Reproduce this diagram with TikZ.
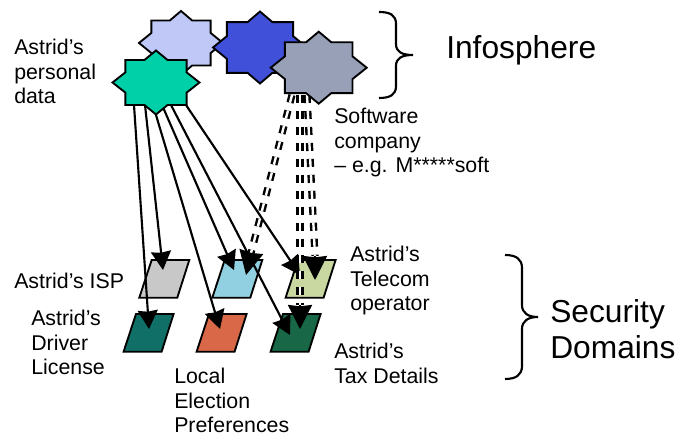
\documentclass[tikz,border=0pt]{standalone}
\usepackage{fontspec}
\setmainfont{Liberation Sans}
\usetikzlibrary{arrows.meta}
\newcommand{\starpath}[5]{% name, cx, cy, rx, ry, fill via style
 \path[starbox,fill=#1] (#2-#4,#3) -- (#2-.704*#4,#3-.316*#5) -- (#2-.704*#4,#3-.705*#5) -- (#2-.264*#4,#3-.705*#5) -- (#2,#3-#5) -- (#2+.264*#4,#3-.705*#5) -- (#2+.704*#4,#3-.705*#5) -- (#2+.704*#4,#3-.316*#5) -- (#2+#4,#3) -- (#2+.704*#4,#3+.316*#5) -- (#2+.704*#4,#3+.705*#5) -- (#2+.264*#4,#3+.705*#5) -- (#2,#3+#5) -- (#2-.264*#4,#3+.705*#5) -- (#2-.704*#4,#3+.705*#5) -- (#2-.704*#4,#3+.316*#5) -- cycle;}
\newcommand{\dompath}[3]{% colour, left-top x, top y
 \path[dombox,fill=#1] (#2,#3) -- (#2+37.6,#3) -- (#2+25.6,#3+37.7) -- (#2-12.4,#3+37.7) -- cycle;}
\definecolor{clav}{HTML}{C0C8F8}
\definecolor{cblue}{HTML}{4050D8}
\definecolor{cgray}{HTML}{98A0B8}
\definecolor{cgreen}{HTML}{00D0A8}
\definecolor{cisp}{HTML}{C8C8C8}
\definecolor{clb}{HTML}{90D0E0}
\definecolor{ctel}{HTML}{C8D8A0}
\definecolor{cdrv}{HTML}{107068}
\definecolor{cora}{HTML}{D86848}
\definecolor{ctax}{HTML}{186848}
\tikzset{
 starbox/.style={draw=black,line width=1.4pt,line join=miter},
 dombox/.style={draw=black,line width=1.4pt,line join=miter},
 solidarrow/.style={draw=black,line width=1.6pt,-{Stealth[length=14pt,width=15pt,inset=1pt]}},
 dashline/.style={draw=black,line width=1.8pt,double=white,double distance=1.8pt,dash pattern=on 6pt off 6pt},
 headonly/.style={draw=black,line width=1.6pt,-{Stealth[length=18pt,width=18pt,inset=1pt]}},
 lab/.style={font=\fontsize{16}{18.4}\selectfont,align=left,anchor=north west,inner sep=0pt,text=black},
 biglab/.style={font=\fontsize{23.8}{27}\selectfont,align=left,anchor=west,inner sep=0pt,text=black},
 bracel/.style={draw=black,line width=1.6pt}
}
\begin{document}
\begin{tikzpicture}[x=.75pt,y=-.75pt]
\useasboundingbox (0,0) rectangle (676,434);
% parallelograms
\dompath{cisp}{151.7}{260}
\dompath{clb}{224.7}{260}
\dompath{ctel}{298}{260}
\dompath{cdrv}{136}{314}
\dompath{cora}{209}{314}
\dompath{ctax}{283}{314}
% named ends
\coordinate (gA) at (134,105); \coordinate (tA) at (149,329);
\coordinate (gB) at (145,105); \coordinate (tB) at (163,270);
\coordinate (gC) at (153,105); \coordinate (tC) at (220,329);
\coordinate (gD) at (162,105); \coordinate (tD) at (234,270);
\coordinate (gE) at (171,105); \coordinate (tE) at (290,335);
\coordinate (gF) at (186,105); \coordinate (tF) at (300,275);
\coordinate (sA) at (292,95); \coordinate (uA) at (251,253); \coordinate (vA) at (246,275);
\coordinate (sB) at (300,95); \coordinate (uB) at (300,305); \coordinate (vB) at (300,329);
\coordinate (sC) at (307,95); \coordinate (uC) at (315,256); \coordinate (vC) at (315,280);
% solid connectors
\draw[solidarrow] (gA) -- (tA);
\draw[solidarrow] (gB) -- (tB);
\draw[solidarrow] (gC) -- (tC);
\draw[solidarrow] (gD) -- (tD);
\draw[solidarrow] (gE) -- (tE);
\draw[solidarrow] (gF) -- (tF);
% double dashed connectors
\draw[dashline] (sA) -- (uA);
\draw[dashline] (sB) -- (uB);
\draw[dashline] (sC) -- (uC);
\draw[headonly] (uA) -- (vA);
\draw[headonly] (uB) -- (vB);
\draw[headonly] (uC) -- (vC);
% stars
\starpath{clav}{181}{43}{42}{32}
\starpath{cgreen}{156}{82.5}{43.5}{32}
\starpath{cblue}{260}{47.5}{47}{36}
\starpath{cgray}{318.7}{67.7}{48}{36}
% braces
\draw[bracel] (379,12) .. controls (390,12) and (396,15) .. (396,24) -- (396,44) .. controls (396,52) and (402,55) .. (413,55) .. controls (402,55) and (396,58) .. (396,66) -- (396,86) .. controls (396,95) and (390,98) .. (379,98);
\draw[bracel] (505,255) .. controls (516,255) and (522,259) .. (522,268) -- (522,305) .. controls (522,313) and (528,317) .. (538,317) .. controls (528,317) and (522,321) .. (522,329) -- (522,366) .. controls (522,375) and (516,379) .. (505,379);
% labels
\node[lab] (n1) at (14,39) {Astrid's\\personal\\data};
\node[lab] (n2) at (334,108) {Software\\company\\– e.g. M*****soft};
\node[lab] (n3) at (14,273) {Astrid's ISP};
\node[lab] (n4) at (31,310) {Astrid's\\Driver\\License};
\node[lab] (n5) at (174,368) {Local\\Election\\Preferences};
\node[lab] (n6) at (350,246) {Astrid's\\Telecom\\operator};
\node[lab] (n7) at (334,343) {Astrid's\\Tax Details};
\node[biglab] (n8) at (446,50) {Infosphere};
\node[biglab,anchor=north west] (n9) at (550,299) {Security\\Domains};
\end{tikzpicture}
\end{document}
